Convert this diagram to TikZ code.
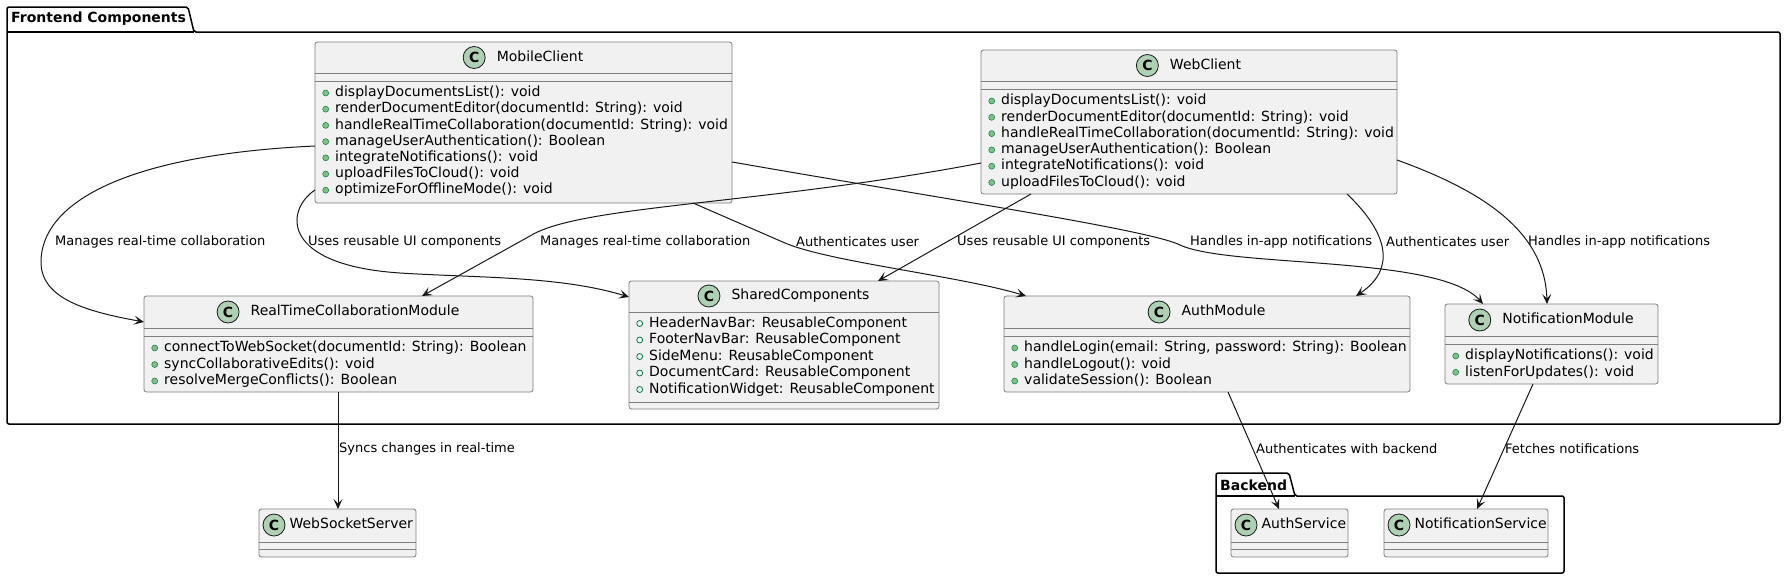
\documentclass[tikz,border=0pt]{standalone}
\usepackage{fontspec}
\setmainfont{DejaVu Sans}
\usetikzlibrary{arrows.meta, calc, positioning}
\definecolor{umlline}{HTML}{181818}
\definecolor{umlborder}{HTML}{7F7F7F}
\definecolor{umlfill}{HTML}{F1F1F1}
\definecolor{spotfill}{HTML}{ADD1B2}
\definecolor{dotfill}{HTML}{84BE84}
\definecolor{dotline}{HTML}{038048}

\begin{document}
\begin{tikzpicture}[x=1pt, y=-1pt,
    cls/.style={rectangle, draw=umlborder, line width=0.8pt, fill=umlfill, rounded corners=2.5pt, inner sep=0pt, outer sep=0pt},
    spot/.style={circle, draw=umlline, line width=0.8pt, fill=spotfill, minimum size=22pt, inner sep=0pt, font=\fontsize{14}{14}\selectfont\bfseries},
    ctitle/.style={inner sep=0pt, font=\fontsize{14}{16}\selectfont, text height=10.5pt, text depth=3pt},
    member/.style={anchor=west, inner sep=0pt, font=\fontsize{14}{16}\selectfont, text height=10.5pt, text depth=3pt},
    mdot/.style={circle, draw=dotline, fill=dotfill, line width=0.5pt, minimum size=6pt, inner sep=0pt},
    fdot/.style={circle, draw=dotline, line width=0.8pt, minimum size=6pt, inner sep=0pt},
    divider/.style={draw=umlborder, line width=0.8pt},
    pkg/.style={draw=black, line width=1.5pt, rounded corners=2pt},
    pkgname/.style={anchor=west, inner sep=0pt, font=\fontsize{14}{16}\selectfont\bfseries},
    rel/.style={draw=umlline, line width=1pt, -{Stealth[length=10pt, width=9pt, inset=4.5pt]}},
    elabel/.style={anchor=west, inner sep=0pt, font=\fontsize{13}{15}\selectfont}
  ]
  \useasboundingbox (0,0) rectangle (1787,579);

  % packages
  \draw[pkg] (7,7) -- (188,7) -- (194,32) -- (1780,32) -- (1780,424) -- (7,424) -- cycle;
  \draw[pkg] (7,32) -- (194,32);
  \node[pkgname] (frontend-name) at (11,19) {Frontend Components};

  \draw[pkg] (1216,473) -- (1289,473) -- (1295,496) -- (1564,496) -- (1564,573) -- (1216,573) -- cycle;
  \draw[pkg] (1216,496) -- (1295,496);
  \node[pkgname] (backend-name) at (1220,485) {Backend};

  % MobileClient
  \node[cls, minimum width=417pt, minimum height=161pt] (mobile) at (523.5,122.5) {};
  \node[ctitle] (mobile-name) at ($(mobile.north)+(16.5,15.5)$) {MobileClient};
  \node[spot, left=11pt of mobile-name] (mobile-spot) {C};
  \draw[divider] ($(mobile.north west)+(0,31.5)$) -- ($(mobile.north east)+(0,31.5)$);
  \draw[divider] ($(mobile.north west)+(0,39)$) -- ($(mobile.north east)+(0,39)$);
  \foreach \m [count=\i from 0] in {displayDocumentsList(): void, renderDocumentEditor(documentId: String): void, handleRealTimeCollaboration(documentId: String): void, manageUserAuthentication(): Boolean, integrateNotifications(): void, uploadFilesToCloud(): void, optimizeForOfflineMode(): void} {
    \node[mdot] (mobile-d\i) at ($(mobile.north west)+(10.7,51+16.2*\i)$) {};
    \node[member] (mobile-m\i) at ($(mobile.north west)+(20,51+16.2*\i)$) {\m};
  }

  % WebClient
  \node[cls, minimum width=416pt, minimum height=144pt] (web) at (1189,122) {};
  \node[ctitle] (web-name) at ($(web.north)+(16.5,15.5)$) {WebClient};
  \node[spot, left=11pt of web-name] (web-spot) {C};
  \draw[divider] ($(web.north west)+(0,31.5)$) -- ($(web.north east)+(0,31.5)$);
  \draw[divider] ($(web.north west)+(0,39)$) -- ($(web.north east)+(0,39)$);
  \foreach \m [count=\i from 0] in {displayDocumentsList(): void, renderDocumentEditor(documentId: String): void, handleRealTimeCollaboration(documentId: String): void, manageUserAuthentication(): Boolean, integrateNotifications(): void, uploadFilesToCloud(): void} {
    \node[mdot] (web-d\i) at ($(web.north west)+(10.7,51+16.3*\i)$) {};
    \node[member] (web-m\i) at ($(web.north west)+(20,51+16.3*\i)$) {\m};
  }

  % RealTimeCollaborationModule
  \node[cls, minimum width=389pt, minimum height=96pt] (rtcm) at (338.5,344) {};
  \node[ctitle] (rtcm-name) at ($(rtcm.north)+(16.5,16)$) {RealTimeCollaborationModule};
  \node[spot, left=11pt of rtcm-name] (rtcm-spot) {C};
  \draw[divider] ($(rtcm.north west)+(0,32)$) -- ($(rtcm.north east)+(0,32)$);
  \draw[divider] ($(rtcm.north west)+(0,40)$) -- ($(rtcm.north east)+(0,40)$);
  \foreach \m [count=\i from 0] in {connectToWebSocket(documentId: String): Boolean, syncCollaborativeEdits(): void, resolveMergeConflicts(): Boolean} {
    \node[mdot] (rtcm-d\i) at ($(rtcm.north west)+(10.7,52+16.5*\i)$) {};
    \node[member] (rtcm-m\i) at ($(rtcm.north west)+(20,52+16.5*\i)$) {\m};
  }

  % SharedComponents
  \node[cls, minimum width=310pt, minimum height=128pt] (shared) at (784,345) {};
  \node[ctitle] (shared-name) at ($(shared.north)+(16.5,15)$) {SharedComponents};
  \node[spot, left=11pt of shared-name] (shared-spot) {C};
  \draw[divider] ($(shared.north west)+(0,31)$) -- ($(shared.north east)+(0,31)$);
  \draw[divider] ($(shared.north west)+(0,121)$) -- ($(shared.north east)+(0,121)$);
  \foreach \m [count=\i from 0] in {HeaderNavBar: ReusableComponent, FooterNavBar: ReusableComponent, SideMenu: ReusableComponent, DocumentCard: ReusableComponent, NotificationWidget: ReusableComponent} {
    \node[fdot] (shared-d\i) at ($(shared.north west)+(10.7,42.5+16.5*\i)$) {};
    \node[member] (shared-m\i) at ($(shared.north west)+(20,42.5+16.5*\i)$) {\m};
  }

  % AuthModule
  \node[cls, minimum width=406pt, minimum height=96pt] (auth) at (1207,344) {};
  \node[ctitle] (auth-name) at ($(auth.north)+(16.5,16)$) {AuthModule};
  \node[spot, left=11pt of auth-name] (auth-spot) {C};
  \draw[divider] ($(auth.north west)+(0,32)$) -- ($(auth.north east)+(0,32)$);
  \draw[divider] ($(auth.north west)+(0,40)$) -- ($(auth.north east)+(0,40)$);
  \foreach \m [count=\i from 0] in {{handleLogin(email: String, password: String): Boolean}, handleLogout(): void, validateSession(): Boolean} {
    \node[mdot] (auth-d\i) at ($(auth.north west)+(10.7,52+16.5*\i)$) {};
    \node[member] (auth-m\i) at ($(auth.north west)+(20,52+16.5*\i)$) {\m};
  }

  % NotificationModule
  \node[cls, minimum width=213pt, minimum height=80pt] (notif) at (1551.5,344) {};
  \node[ctitle] (notif-name) at ($(notif.north)+(16.5,16)$) {NotificationModule};
  \node[spot, left=11pt of notif-name] (notif-spot) {C};
  \draw[divider] ($(notif.north west)+(0,32)$) -- ($(notif.north east)+(0,32)$);
  \draw[divider] ($(notif.north west)+(0,40)$) -- ($(notif.north east)+(0,40)$);
  \foreach \m [count=\i from 0] in {displayNotifications(): void, listenForUpdates(): void} {
    \node[mdot] (notif-d\i) at ($(notif.north west)+(10.7,52+16.3*\i)$) {};
    \node[member] (notif-m\i) at ($(notif.north west)+(20,52+16.3*\i)$) {\m};
  }

  % outside classes
  \node[cls, minimum width=157pt, minimum height=48pt] (wss) at (337.5,533) {};
  \node[spot] (wss-spot) at ($(wss.north west)+(15,16)$) {C};
  \node[ctitle, right=4pt of wss-spot] (wss-name) {WebSocketServer};
  \draw[divider] ($(wss.north west)+(0,33)$) -- ($(wss.north east)+(0,33)$);
  \draw[divider] ($(wss.north west)+(0,40.5)$) -- ($(wss.north east)+(0,40.5)$);

  \node[cls, minimum width=117pt, minimum height=48pt] (authsvc) at (1289.5,533) {};
  \node[spot] (authsvc-spot) at ($(authsvc.north west)+(15,16)$) {C};
  \node[ctitle, right=4pt of authsvc-spot] (authsvc-name) {AuthService};
  \draw[divider] ($(authsvc.north west)+(0,33)$) -- ($(authsvc.north east)+(0,33)$);
  \draw[divider] ($(authsvc.north west)+(0,40.5)$) -- ($(authsvc.north east)+(0,40.5)$);

  \node[cls, minimum width=164pt, minimum height=48pt] (notifsvc) at (1466,533) {};
  \node[spot] (notifsvc-spot) at ($(notifsvc.north west)+(15,16)$) {C};
  \node[ctitle, right=4pt of notifsvc-spot] (notifsvc-name) {NotificationService};
  \draw[divider] ($(notifsvc.north west)+(0,33)$) -- ($(notifsvc.north east)+(0,33)$);
  \draw[divider] ($(notifsvc.north west)+(0,40.5)$) -- ($(notifsvc.north east)+(0,40.5)$);

  % relations
  \draw[rel] ([yshift=-23.5pt]mobile.west) .. controls (120,155) and (41,205) .. (41,262) .. controls (41,300) and (90,312) .. ([yshift=22pt]rtcm.west);
  \draw[rel] ([yshift=-67.5pt]mobile.west) .. controls (285,210) and (280,265) .. (400,273) .. controls (480,278) and (560,276) .. ([yshift=48pt]shared.west);
  \draw[rel] ([yshift=-41pt]web.west) .. controls (760,205) and (580,205) .. (530,236) -- ([xshift=83.5pt]rtcm.north);
  \draw[rel] ([xshift=169.5pt]mobile.south) -- (785,243) .. controls (830,262) and (960,276) .. ([xshift=-181pt]auth.north);
  \draw[rel] ([xshift=-158pt]web.south) -- ([xshift=94pt]shared.north);
  \draw[rel] ([yshift=-39.5pt]mobile.east) .. controls (950,200) and (1150,230) .. (1180,245) .. controls (1230,268) and (1440,255) .. ([xshift=-68.5pt]notif.north);
  \draw[rel] ([xshift=158pt]web.south) .. controls (1390,235) and (1395,270) .. ([xshift=149pt]auth.north);
  \draw[rel] ([yshift=-38pt]web.east) .. controls (1480,190) and (1545,230) .. ([xshift=-4.5pt]notif.north);
  \draw[rel] ([xshift=-0.5pt]rtcm.south) -- ([xshift=0.5pt]wss.north);
  \draw[rel] ([xshift=21pt]auth.south) -- ([xshift=-10.5pt]authsvc.north);
  \draw[rel] ([xshift=-18.5pt]notif.south) -- ([xshift=11pt]notifsvc.north);

  \node[elabel] (lbl-a) at (55,242) {Manages real-time collaboration};
  \node[elabel] (lbl-b) at (308,242) {Uses reusable UI components};
  \node[elabel] (lbl-c) at (540,242) {Manages real-time collaboration};
  \node[elabel] (lbl-d) at (796,242) {Authenticates user};
  \node[elabel] (lbl-e) at (957,242) {Uses reusable UI components};
  \node[elabel] (lbl-f) at (1190,242) {Handles in-app notifications};
  \node[elabel] (lbl-g) at (1386,242) {Authenticates user};
  \node[elabel] (lbl-h) at (1528,242) {Handles in-app notifications};
  \node[elabel] (lbl-i) at (339,449) {Syncs changes in real-time};
  \node[elabel] (lbl-j) at (1256,449) {Authenticates with backend};
  \node[elabel] (lbl-k) at (1505,449) {Fetches notifications};
\end{tikzpicture}
\end{document}
